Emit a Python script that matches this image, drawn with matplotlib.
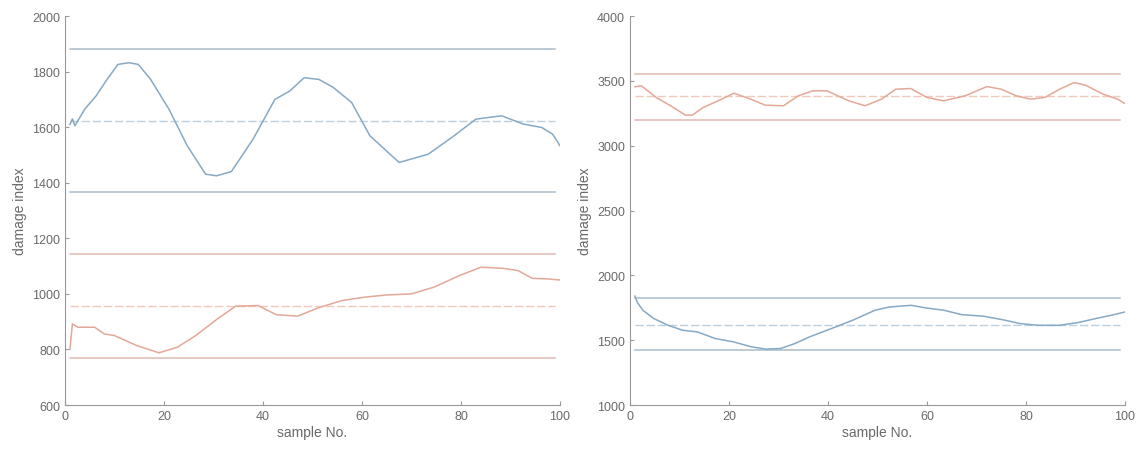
import numpy as np
import matplotlib
matplotlib.use("Agg")
import matplotlib.pyplot as plt

# left panel, blue trace
l_blue_x = [1, 1.5, 2, 4, 6.3, 8.5, 10.7, 12.9, 14.8, 17.3, 21, 24.7, 28.4, 30.6, 33.6, 38,
            42.4, 45.4, 48.3, 51.3, 54.2, 57.9, 61.6, 67.5, 73.4, 78.6, 83, 88.2, 92.6,
            96.3, 98.5, 100]
l_blue_y = [1610, 1630, 1605, 1665, 1713, 1772, 1826, 1832, 1826, 1772, 1665, 1533, 1431,
            1425, 1440, 1557, 1700, 1730, 1778, 1772, 1743, 1689, 1569, 1473, 1503, 1569,
            1629, 1641, 1611, 1599, 1575, 1533]
l_blue_lim = [1880, 1622, 1365]

# left panel, red trace
l_red_x = [1, 1.5, 2.6, 6, 7.9, 10, 14.5, 19, 22.7, 26.4, 30.8, 34.5, 39, 42.7, 47, 51.5,
           56, 60.4, 64.9, 70, 74.5, 79.7, 84, 88.5, 91.5, 94.4, 97.4, 100]
l_red_y = [800, 892, 880, 880, 856, 850, 814, 788, 808, 850, 910, 956, 958, 925, 920, 952,
           976, 988, 996, 1000, 1024, 1066, 1096, 1092, 1084, 1056, 1054, 1050]
l_red_lim = [1143, 957, 771]

# right panel, red trace
r_red_x = [1, 2.3, 5.3, 8.2, 11.2, 12.6, 14.8, 17.8, 21, 24.4, 27.3, 31, 34, 36.9, 39.8,
           44.2, 47.5, 50.8, 53.7, 56.7, 60, 63.3, 67.7, 72.1, 75, 78, 80.9, 83.8, 86.8,
           89.7, 92, 95.6, 98.5, 100]
r_red_y = [3455, 3462, 3372, 3308, 3236, 3236, 3295, 3346, 3405, 3359, 3313, 3308, 3385,
           3423, 3423, 3346, 3308, 3359, 3436, 3441, 3372, 3346, 3385, 3456, 3436, 3385,
           3359, 3372, 3436, 3487, 3467, 3397, 3359, 3325]
r_red_lim = [3551, 3385, 3200]

# right panel, blue trace
r_blue_x = [1, 1.5, 2.6, 4.8, 7.7, 10.6, 13.6, 17.2, 20.9, 24.5, 27.5, 30.4, 33.3, 36.3,
            40.7, 45, 49.5, 52.4, 56.8, 59.7, 63.4, 67, 71.4, 75.8, 78.8, 82.4, 86.8,
            90.5, 94.1, 97.8, 100]
r_blue_y = [1840, 1790, 1731, 1667, 1615, 1577, 1564, 1513, 1487, 1449, 1431, 1436, 1474,
            1526, 1590, 1654, 1731, 1756, 1769, 1749, 1731, 1697, 1685, 1654, 1628, 1615,
            1615, 1636, 1667, 1697, 1718]
r_blue_lim = [1828, 1621, 1428]

blue = '#86a9c6'
red = '#e3a897'
blue_lim = '#a9bccb'
red_lim = '#dfbab2'
blue_mid = '#bcd0e0'
red_mid = '#f0c8bc'
grey = '#999999'
txt = '#6a6a6a'

plt.rcParams['font.family'] = ['Liberation Sans', 'DejaVu Sans']

fig = plt.figure(figsize=(11.38, 4.56), dpi=100)
ax1 = fig.add_axes([0.0571, 0.1096, 0.435, 0.853])
ax2 = fig.add_axes([0.5536, 0.1096, 0.435, 0.853])


def draw_lims(ax, lims, col, mid):
    ax.axhline(lims[0], xmin=0.01, xmax=0.99, color=col, lw=1.1)
    ax.axhline(lims[1], xmin=0.01, xmax=0.99, color=mid, lw=1.0, ls=(0, (6, 2)))
    ax.axhline(lims[2], xmin=0.01, xmax=0.99, color=col, lw=1.1)


draw_lims(ax1, l_blue_lim, blue_lim, blue_mid)
draw_lims(ax1, l_red_lim, red_lim, red_mid)
ax1.plot(l_blue_x, l_blue_y, color=blue, lw=1.1)
ax1.plot(l_red_x, l_red_y, color=red, lw=1.1)
ax1.set_ylim(600, 2000)
ax1.set_yticks(np.arange(600, 2001, 200))

draw_lims(ax2, r_red_lim, red_lim, red_mid)
draw_lims(ax2, r_blue_lim, blue_lim, blue_mid)
ax2.plot(r_red_x, r_red_y, color=red, lw=1.1)
ax2.plot(r_blue_x, r_blue_y, color=blue, lw=1.1)
ax2.set_ylim(1000, 4000)
ax2.set_yticks(np.arange(1000, 4001, 500))

for ax in (ax1, ax2):
    ax.set_xlim(0, 100)
    ax.set_xticks(np.arange(0, 101, 20))
    ax.spines['top'].set_visible(False)
    ax.spines['right'].set_visible(False)
    for s in ('left', 'bottom'):
        ax.spines[s].set_color(grey)
        ax.spines[s].set_linewidth(0.8)
    ax.tick_params(direction='in', length=3, colors=grey, labelsize=9,
                   labelcolor=txt)
    ax.set_xlabel('sample No.', fontsize=10, color=txt, labelpad=2)
    ax.set_ylabel('damage index', fontsize=10, color=txt, labelpad=4)

fig.savefig('out.png', dpi=100)
